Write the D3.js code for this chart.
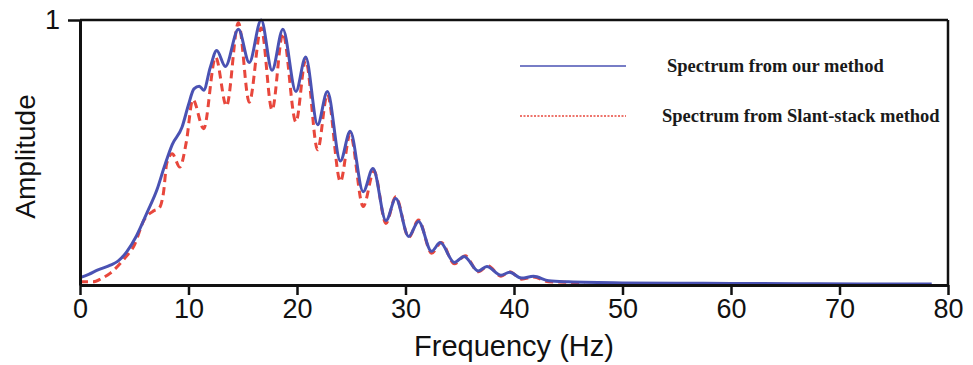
<!DOCTYPE html>
<html>
<head>
<meta charset="utf-8">
<script src="https://cdn.jsdelivr.net/npm/d3@7"></script>
<style>
  body { margin: 0; background: #fff; }
  svg { display: block; }
</style>
</head>
<body>
<figure id="spec" style="margin:0"></figure>
<script>
// Spectrum from our method (blue, solid)
const ourFreq = [0, 0.8, 1.6, 2.8, 3.5, 4.3, 5.2, 6.2, 7.1, 7.8, 8.5, 9.4, 10.0, 10.5, 11.0, 11.4,
  12.0, 12.6, 13.4, 14.6, 15.6, 16.7, 17.7, 18.7, 19.9, 20.8, 21.9, 22.8, 24.0, 24.9, 26.1, 27.0,
  28.2, 29.1, 30.3, 31.2, 32.4, 33.2, 34.5, 35.4, 36.7, 37.5, 38.8, 39.6, 40.7, 41.8, 43.2, 45,
  50, 55, 60, 66, 72, 78.5];
const ourAmp = [0.028, 0.04, 0.056, 0.075, 0.09, 0.125, 0.185, 0.275, 0.36, 0.45, 0.53, 0.595, 0.68, 0.74, 0.75, 0.735,
  0.82, 0.885, 0.825, 0.965, 0.84, 1.0, 0.81, 0.965, 0.73, 0.86, 0.605, 0.73, 0.468, 0.58, 0.352, 0.44,
  0.243, 0.326, 0.183, 0.24, 0.127, 0.16, 0.085, 0.108, 0.053, 0.07, 0.037, 0.048, 0.026, 0.033, 0.016, 0.012,
  0.008, 0.007, 0.006, 0.005, 0.004, 0.004];

// Spectrum from Slant-stack method (red, dashed)
const slantFreq = [0, 1.2, 2.0, 2.8, 4.1, 5.0, 5.9, 6.8, 7.3, 7.7, 8.0, 8.5, 9.2, 9.8, 10.4, 11.4,
  12.5, 13.5, 14.6, 15.6, 16.7, 17.7, 18.7, 19.9, 20.8, 21.9, 22.8, 24.0, 24.9, 26.1, 27.1, 28.2,
  29.1, 30.3, 31.2, 32.4, 33.3, 34.5, 35.5, 36.7, 37.6, 38.8, 39.6, 40.7, 41.8, 43.2, 45, 46.5];
const slantAmp = [0.012, 0.012, 0.025, 0.045, 0.10, 0.15, 0.245, 0.28, 0.29, 0.35, 0.46, 0.495, 0.445, 0.54, 0.70, 0.59,
  0.86, 0.675, 0.99, 0.69, 0.97, 0.66, 0.95, 0.615, 0.85, 0.51, 0.72, 0.39, 0.57, 0.296, 0.43, 0.232,
  0.333, 0.18, 0.245, 0.12, 0.16, 0.08, 0.11, 0.05, 0.072, 0.033, 0.05, 0.022, 0.03, 0.012, 0.01, 0.005];

const xTicks = [0, 10, 20, 30, 40, 50, 60, 70, 80];
const yTicks = [1];
const legendLabels = ["Spectrum from our method", "Spectrum from Slant-stack method"];

const W = 973, H = 365;
const margin = { left: 80, right: 25, top: 20, bottom: 80 };

const svg = d3.select("figure#spec")
  .append("svg")
  .attr("width", W)
  .attr("height", H);

const x = d3.scaleLinear().domain([0, 80]).range([margin.left, W - margin.right]);
const y = d3.scaleLinear().domain([0, 1]).range([H - margin.bottom, margin.top]);

const line = d3.line()
  .x(d => x(d[0]))
  .y(d => y(d[1]))
  .curve(d3.curveMonotoneX);

// curves: dashed red underneath, blue on top
svg.append("path")
  .datum(slantFreq.map((f, i) => [f, slantAmp[i]]))
  .attr("fill", "none")
  .attr("stroke", "#e8473c")
  .attr("stroke-width", 3)
  .attr("stroke-dasharray", "8,5")
  .attr("d", line);

svg.append("path")
  .datum(ourFreq.map((f, i) => [f, ourAmp[i]]))
  .attr("fill", "none")
  .attr("stroke", "#4a52b3")
  .attr("stroke-width", 3)
  .attr("d", line);

// frame: top and right lines
svg.append("line")
  .attr("x1", x(0)).attr("x2", x(80))
  .attr("y1", y(1)).attr("y2", y(1))
  .attr("stroke", "#111").attr("stroke-width", 2.5);
svg.append("line")
  .attr("x1", x(80)).attr("x2", x(80))
  .attr("y1", y(1)).attr("y2", y(0))
  .attr("stroke", "#111").attr("stroke-width", 2.5);

// x axis
const gx = svg.append("g")
  .attr("transform", "translate(0," + y(0) + ")")
  .call(d3.axisBottom(x).tickValues(xTicks).tickSize(10).tickSizeOuter(0).tickPadding(4));
gx.select(".domain").attr("stroke", "#111").attr("stroke-width", 3);
gx.selectAll(".tick line").attr("stroke", "#111").attr("stroke-width", 2.5);
gx.selectAll(".tick text")
  .attr("fill", "#111")
  .style("font-family", "'Liberation Sans', Arial, sans-serif")
  .style("font-size", "27px");

// y axis
const gy = svg.append("g")
  .attr("transform", "translate(" + x(0) + ",0)")
  .call(d3.axisLeft(y).tickValues(yTicks).tickFormat(d3.format("d"))
    .tickSize(12).tickSizeOuter(0).tickPadding(8));
gy.select(".domain").attr("stroke", "#111").attr("stroke-width", 3);
gy.selectAll(".tick line").attr("stroke", "#111").attr("stroke-width", 2.5);
gy.selectAll(".tick text")
  .attr("fill", "#111")
  .style("font-family", "'Liberation Sans', Arial, sans-serif")
  .style("font-size", "27px");

// axis titles
svg.append("text")
  .attr("x", (x(0) + x(80)) / 2)
  .attr("y", 356)
  .attr("text-anchor", "middle")
  .attr("fill", "#111")
  .style("font-family", "'Liberation Sans', Arial, sans-serif")
  .style("font-size", "29px")
  .text("Frequency (Hz)");

svg.append("text")
  .attr("transform", "translate(35," + ((y(0) + y(1)) / 2 + 4) + ") rotate(-90)")
  .attr("text-anchor", "middle")
  .attr("fill", "#111")
  .style("font-family", "'Liberation Sans', Arial, sans-serif")
  .style("font-size", "28px")
  .text("Amplitude");

// legend
const legend = svg.append("g");
const legendY = [66, 116];
legend.append("line")
  .attr("x1", 520).attr("x2", 626)
  .attr("y1", legendY[0]).attr("y2", legendY[0])
  .attr("stroke", "#4a52b3").attr("stroke-width", 1.6);
legend.append("line")
  .attr("x1", 520).attr("x2", 626)
  .attr("y1", legendY[1]).attr("y2", legendY[1])
  .attr("stroke", "#e8473c").attr("stroke-width", 1.4)
  .attr("stroke-dasharray", "2,1.5");
legend.selectAll("text.leg")
  .data(legendLabels)
  .enter()
  .append("text")
  .attr("class", "leg")
  .attr("x", (d, i) => i === 0 ? 667 : 662)
  .attr("y", (d, i) => legendY[i] + 6)
  .attr("fill", "#1a1a1a")
  .style("font-family", "'Liberation Serif', 'Times New Roman', serif")
  .style("font-weight", "bold")
  .style("font-size", "18.5px")
  .text(d => d);
</script>
</body>
</html>
